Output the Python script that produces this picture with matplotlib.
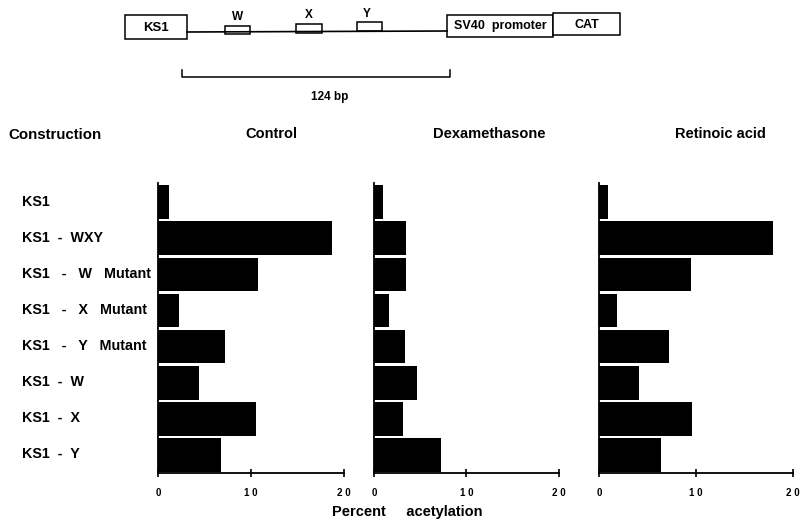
import numpy as np
import matplotlib.pyplot as plt
from matplotlib.patches import Rectangle

plt.rcParams['font.family'] = ['Liberation Sans', 'DejaVu Sans']
plt.rcParams['font.weight'] = 'bold'

# 构建体名称
constructs = ['KS1', 'KS1  -  WXY', 'KS1   -   W   Mutant', 'KS1   -   X   Mutant',
              'KS1   -   Y   Mutant', 'KS1  -  W', 'KS1  -  X', 'KS1  -  Y']
# 各处理的乙酰化百分比
control = [1.2, 18.7, 10.7, 2.3, 7.2, 4.4, 10.5, 6.8]
dexamethasone = [1.0, 3.5, 3.5, 1.6, 3.3, 4.7, 3.1, 7.2]
retinoic_acid = [0.9, 17.9, 9.5, 1.9, 7.2, 4.1, 9.6, 6.4]
titles = ['Control', 'Dexamethasone', 'Retinoic acid']
xticks = [0, 10, 20]
xticklabels = ['0', '1 0', '2 0']

W, H = 804, 527
fig = plt.figure(figsize=(W / 100, H / 100), dpi=100)

# 三个面板的位置 (像素)
panels = [(158, 344), (374, 559), (599, 793)]
top, bottom = 183, 473
series = [control, dexamethasone, retinoic_acid]
title_x = [271, 489, 720]

for (x0, x1), vals, t, tx in zip(panels, series, titles, title_x):
    ax = fig.add_axes([x0 / W, 1 - bottom / H, (x1 - x0) / W, (bottom - top) / H])
    ax.barh(np.arange(len(vals)), vals, height=0.93, color='black')
    ax.set_xlim(0, 20)
    ax.set_ylim(7.5, -0.53)
    ax.spines['top'].set_visible(False)
    ax.spines['right'].set_visible(False)
    ax.spines['left'].set_linewidth(1.3)
    ax.spines['bottom'].set_linewidth(1.3)
    ax.set_yticks([])
    ax.set_xticks(xticks)
    ax.set_xticklabels(xticklabels, fontsize=7, fontweight='bold')
    ax.tick_params(axis='x', direction='inout', length=6, width=1.2, pad=8)
    fig.text(tx / W, 1 - 134 / H, t, ha='center', va='center', fontsize=10.5, fontweight='bold')

fig.text(8 / W, 1 - 135 / H, 'Construction', ha='left', va='center', fontsize=10.8, fontweight='bold')

# 行标签
row_top = 184
row_h = (472 - 184) / 8
for i, name in enumerate(constructs):
    yc = row_top + row_h * (i + 0.5)
    fig.text(22 / W, 1 - yc / H, name, ha='left', va='center', fontsize=10.3, fontweight='bold')

fig.text(407 / W, 1 - 512 / H, 'Percent     acetylation', ha='center', va='center',
         fontsize=10.5, fontweight='bold')

# 顶部示意图
dg = fig.add_axes([0, 0, 1, 1])
dg.set_xlim(0, W)
dg.set_ylim(H, 0)
dg.axis('off')
dg.plot([187, 447], [32, 31], color='black', lw=1.2)
for (bx0, bx1, by0, by1) in [(125, 187, 15, 39), (225, 250, 26, 34), (296, 322, 24, 33),
                             (357, 382, 22, 31), (447, 553, 15, 37), (553, 620, 13, 35)]:
    dg.add_patch(Rectangle((bx0, by0), bx1 - bx0, by1 - by0, fill=True, facecolor='white',
                           edgecolor='black', lw=1.1))
dg.text(156, 28, 'KS1', ha='center', va='center', fontsize=9.5)
dg.text(500, 26, 'SV40  promoter', ha='center', va='center', fontsize=9)
dg.text(587, 25, 'CAT', ha='center', va='center', fontsize=9)
dg.text(238, 17, 'W', ha='center', va='center', fontsize=8.5)
dg.text(309, 15, 'X', ha='center', va='center', fontsize=8.5)
dg.text(367, 14, 'Y', ha='center', va='center', fontsize=8.5)
dg.plot([182, 182, 450, 450], [70, 77, 77, 70], color='black', lw=1.1)
dg.text(330, 97, '124 bp', ha='center', va='center', fontsize=8.5)

fig.savefig('out.png', dpi=100)
